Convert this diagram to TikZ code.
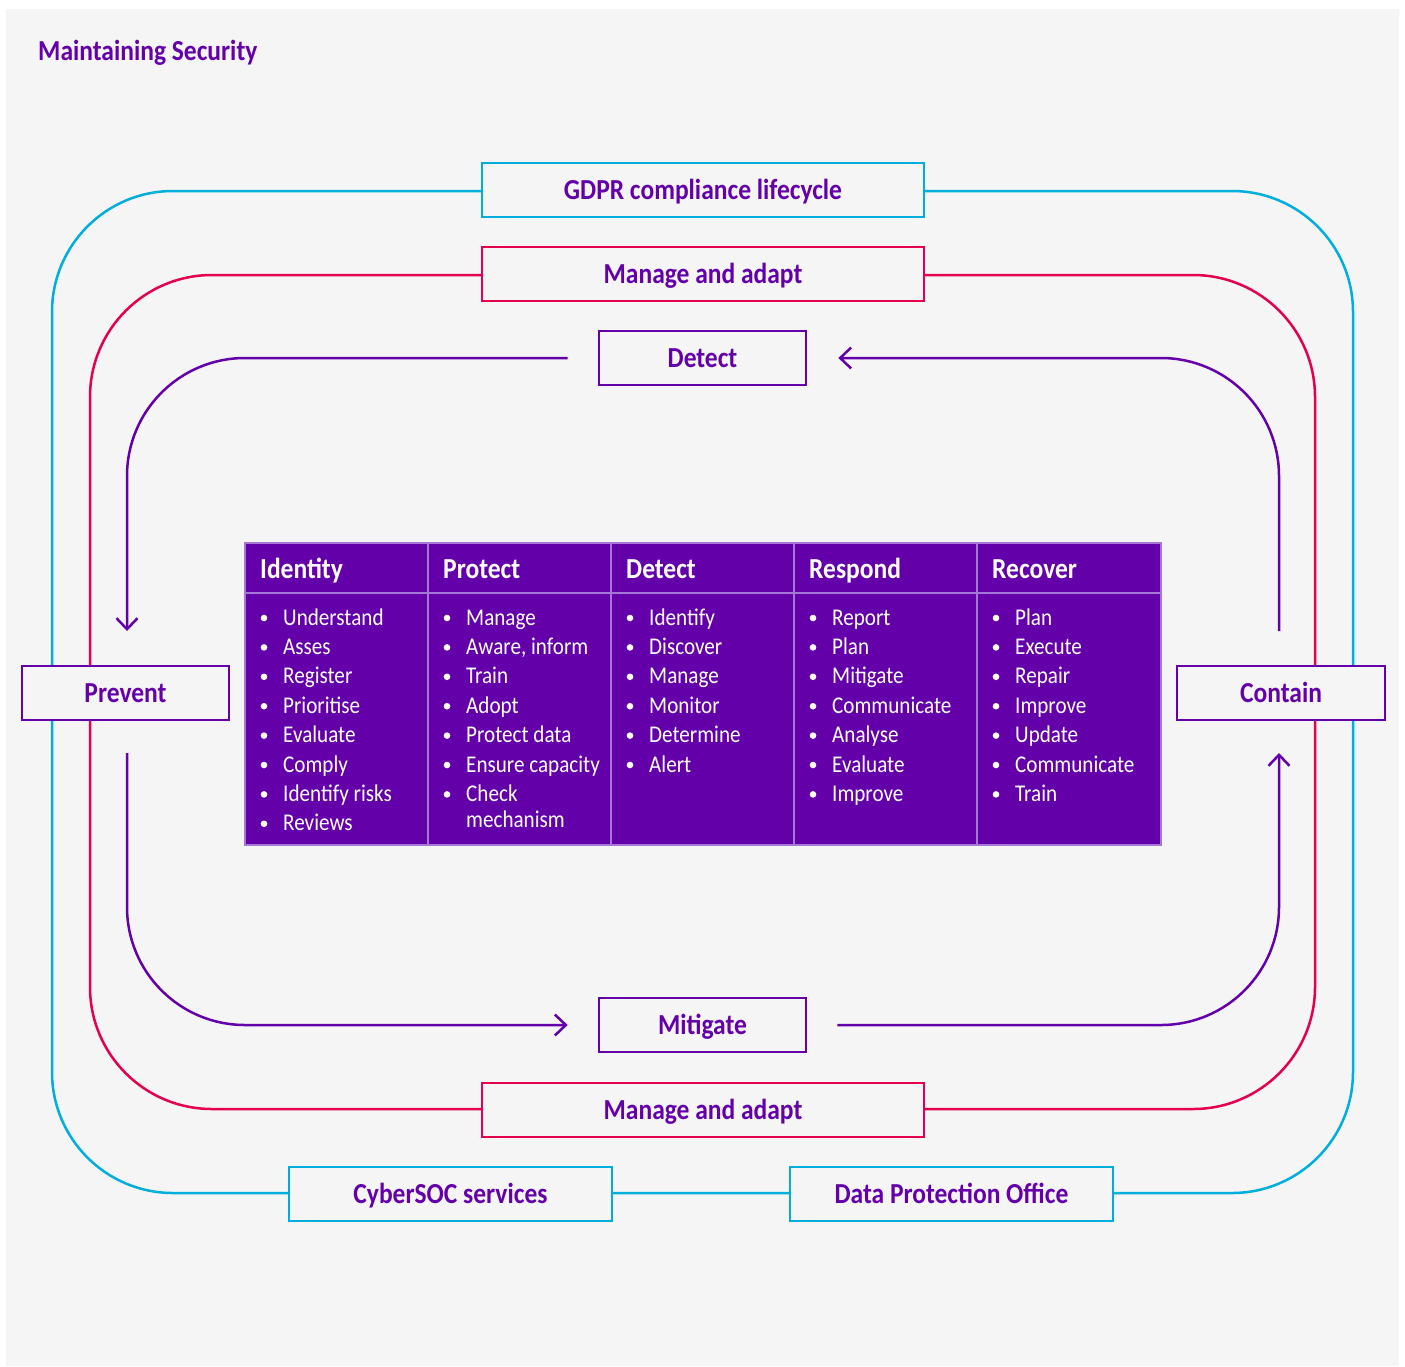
\documentclass[tikz,border=0pt]{standalone}
\usepackage{fontspec}
\setmainfont{Carlito}[FakeStretch=0.88]
\usetikzlibrary{arrows.meta}
\definecolor{bgc}{HTML}{F5F5F5}
\definecolor{pur}{HTML}{6400AA}
\definecolor{cy}{HTML}{00AEDB}
\definecolor{pk}{HTML}{E5004F}
\definecolor{divc}{HTML}{A678D6}
\newcommand\tabcol[3]{%
  \node[hd, anchor=base west] (h#1) at ({245+183*#1+15},578) {#2};
  \foreach \x [count=\k from 0] in {#3} {
    \node[itm, anchor=base west] (c#1r\k) at ({245+183*#1+38},{625+29.4*\k}) {\x};
    \fill[white] ({245+183*#1+19},{618+29.4*\k}) circle (3.3pt);
  }}
\begin{document}
\begin{tikzpicture}[x=1pt,y=-1pt,
  lbl/.style={font=\fontsize{29}{34}\selectfont\bfseries, text=pur, text height=18.7pt, text depth=0pt, inner ysep=0pt, minimum height=54pt, fill=bgc, line width=2.7pt},
  cbox/.style={lbl, draw=cy},
  pbox/.style={lbl, draw=pk},
  ubox/.style={lbl, draw=pur},
  loopc/.style={draw=cy, line width=2.5pt},
  loopp/.style={draw=pk, line width=2.5pt},
  parrow/.style={draw=pur, line width=2.5pt, -{Straight Barb[length=11pt,width=21pt]}},
  hd/.style={font=\fontsize{29}{34}\selectfont\bfseries, text=white, inner sep=0pt},
  itm/.style={font=\fontsize{24}{29}\selectfont, text=white, inner sep=0pt},
  divl/.style={draw=divc, line width=1.5pt}]
\useasboundingbox (0,0) rectangle (1405,1366);
\fill[white] (0,0) rectangle (1405,1366);
\fill[bgc] (6,9) rectangle (1399,1366);

\node[font=\fontsize{29}{34}\selectfont\bfseries, text=pur, inner sep=0pt, anchor=base west] (title) at (38,60) {Maintaining Security};

% loops
\draw[loopc, rounded corners=121pt] (52,191) rectangle (1353,1193);
\draw[loopp, rounded corners=122pt] (90,275) rectangle (1315,1109);

% boxes
\node[cbox, minimum width=442pt] (gdpr) at (703,190) {GDPR compliance lifecycle};
\node[pbox, minimum width=442pt] (mtop) at (703,274) {Manage and adapt};
\node[ubox, minimum width=207pt] (detect) at (702.5,358) {Detect};
\node[ubox, minimum width=207pt] (prevent) at (125.5,693) {Prevent};
\node[ubox, minimum width=208pt] (contain) at (1281,693) {Contain};
\node[ubox, minimum width=207pt] (mitigate) at (702.5,1025) {Mitigate};
\node[pbox, minimum width=442pt] (mbot) at (703,1110) {Manage and adapt};
\node[cbox, minimum width=323pt] (cyber) at (450.5,1194) {CyberSOC services};
\node[cbox, minimum width=323pt] (dpo) at (951.5,1194) {Data Protection Office};

% purple arrows
\coordinate (a1s) at ([xshift=-30pt]detect.west);
\coordinate (a1e) at (127,631);
\draw[parrow, rounded corners=118pt] (a1s) -- (a1e |- a1s) -- (a1e);
\coordinate (a2s) at (1279,631);
\coordinate (a2e) at ([xshift=31pt]detect.east);
\draw[parrow, rounded corners=118pt] (a2s) -- (a2s |- a2e) -- (a2e);
\coordinate (a3s) at (127,753);
\coordinate (a3e) at ([xshift=-30pt]mitigate.west);
\draw[parrow, rounded corners=118pt] (a3s) -- (a3s |- a3e) -- (a3e);
\coordinate (a4s) at ([xshift=30pt]mitigate.east);
\coordinate (a4e) at (1279,753);
\draw[parrow, rounded corners=118pt] (a4s) -- (a4e |- a4s) -- (a4e);

% table
\fill[pur] (245,543) rectangle (1161,845);
\draw[divl] (245,543) rectangle (1161,845);
\draw[divl] (245,593) -- (1161,593);
\foreach \vx in {428,611,794,977} \draw[divl] (\vx,543) -- (\vx,845);

\tabcol{0}{Identity}{Understand,Asses,Register,Prioritise,Evaluate,Comply,Identify risks,Reviews}
\tabcol{1}{Protect}{Manage,{Aware, inform},Train,Adopt,Protect data,Ensure capacity,Check}
\node[itm, anchor=base west] (c1r6b) at (466,827) {mechanism};
\tabcol{2}{Detect}{Identify,Discover,Manage,Monitor,Determine,Alert}
\tabcol{3}{Respond}{Report,Plan,Mitigate,Communicate,Analyse,Evaluate,Improve}
\tabcol{4}{Recover}{Plan,Execute,Repair,Improve,Update,Communicate,Train}
\end{tikzpicture}
\end{document}
